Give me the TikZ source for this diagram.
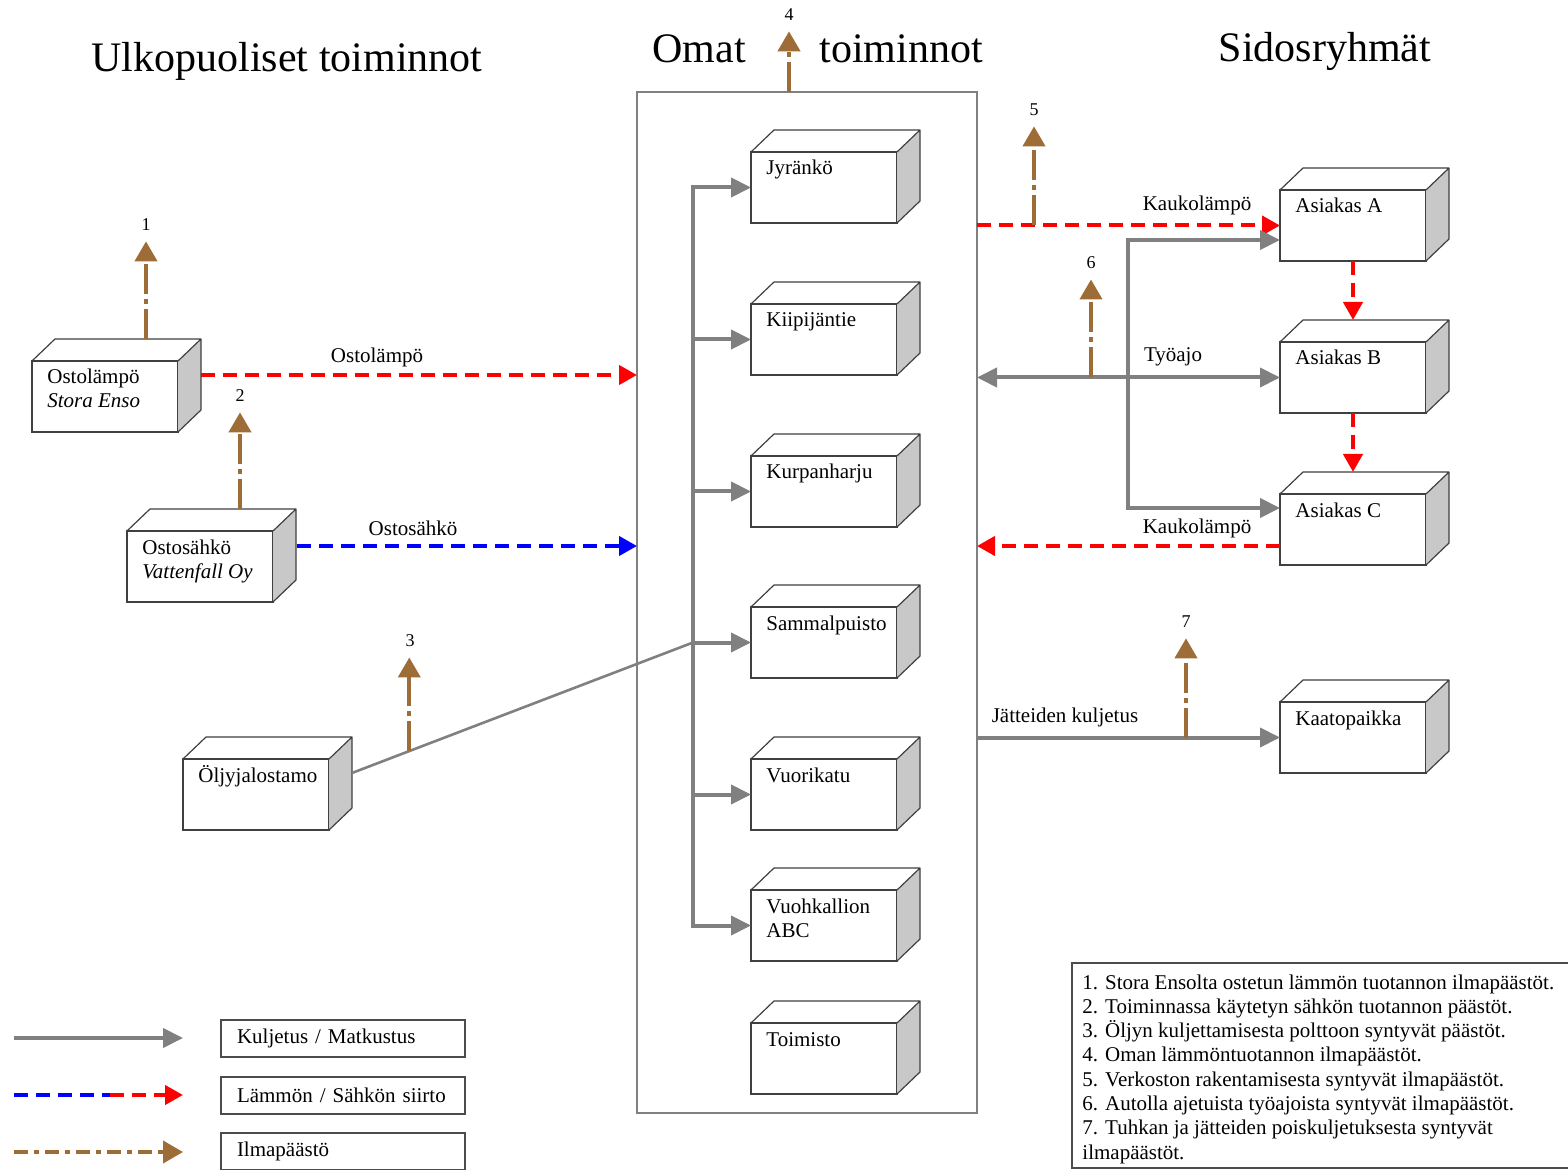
\documentclass[tikz,border=0pt]{standalone}
\usepackage{fontspec}
\setmainfont{Liberation Serif}
\usetikzlibrary{arrows.meta,calc}
\definecolor{cgray}{RGB}{128,128,128}
\definecolor{cred}{RGB}{255,0,0}
\definecolor{cblue}{RGB}{0,0,255}
\definecolor{cbrown}{RGB}{158,108,55}
\definecolor{cside}{RGB}{200,200,200}
\tikzset{
  front/.style={draw=black!75, line width=0.6pt, fill=white, minimum width=73pt, minimum height=35.5pt, inner sep=0pt, outer sep=0pt, anchor=north west},
  boxtext/.style={anchor=base west, inner sep=0pt, font=\fontsize{10.5}{12}\selectfont},
  gtip/.tip={Triangle[length=10pt,width=9.5pt]},
  rtip/.tip={Triangle[length=9pt,width=9.5pt]},
  btip/.tip={Triangle[length=10pt,width=11pt]},
  gline/.style={draw=cgray, line width=2pt},
  transport/.style={gline, -gtip},
  heat/.style={draw=cred, line width=2pt, dash pattern=on 7pt off 4pt, -rtip},
  power/.style={draw=cblue, line width=2pt, dash pattern=on 7pt off 4pt, -rtip},
  emis/.style={draw=cbrown, line width=2pt, dash pattern=on 15pt off 2.5pt on 2.5pt off 2.5pt, -btip},
  lbl/.style={font=\fontsize{10.5}{12}\selectfont, inner sep=1pt},
  num/.style={font=\fontsize{9}{11}\selectfont, inner sep=0pt},
  title/.style={font=\fontsize{21}{25}\selectfont, inner sep=0pt, anchor=base},
  legbox/.style={draw=black!70, line width=0.6pt, anchor=west, text width=106pt, inner xsep=8pt, minimum height=18.5pt, inner ysep=0pt, outer sep=0pt, font=\fontsize{10.5}{12}\selectfont},
}
\newcommand\cubeat[4]{%
  \node[front] (#1) at (#2,#3) {};
  \fill[cside] (#1.north east) -- ++(23,-22) -- ++(0,71) -- (#1.south east) -- cycle;
  \draw[black!75, line width=0.6pt, line join=round] (#1.north west) -- ++(23,-22) -- ++(146,0) -- ++(0,71) -- (#1.south east) (#1.north east) -- ++(23,-22);
  \node[boxtext] (#1-t) at ($(#1.north west)+(15,23)$) {\begin{tabular}[t]{@{}l@{}}#4\end{tabular}};
}
\begin{document}
\begin{tikzpicture}[x=0.5pt,y=-0.5pt]
\fill[white] (0,0) rectangle (1568,1170);
\useasboundingbox (0,0) rectangle (1568,1170);

% titles
\node[title] (t1) at (287,72) {Ulkopuoliset toiminnot};
\node[title] (t2) at (699,63) {Omat};
\node[title] (t3) at (901,63) {toiminnot};
\node[title] (t4) at (1325,62) {Sidosryhmät};

% big box
\node[draw=cgray, line width=0.8pt, minimum width=170pt, minimum height=510.5pt, inner sep=0pt, outer sep=0pt, anchor=north west] (omat) at (637,92) {};

% own sites
\cubeat{jyr}{751}{152}{Jyränkö}
\cubeat{kiipi}{751}{304}{Kiipijäntie}
\cubeat{kurpan}{751}{456}{Kurpanharju}
\cubeat{sammal}{751}{607}{Sammalpuisto}
\cubeat{vuori}{751}{759}{Vuorikatu}
\cubeat{vuoh}{751}{890}{Vuohkallion\\ABC}
\cubeat{toim}{751}{1023}{Toimisto}

% external
\cubeat{ostol}{32}{361}{Ostolämpö\\\textit{Stora Enso}}
\cubeat{ostos}{127}{531}{Ostosähkö\\\textit{Vattenfall Oy}}
\cubeat{oljy}{183}{759}{Öljyjalostamo}

% stakeholders
\cubeat{asA}{1280}{190}{Asiakas A}
\cubeat{asB}{1280}{342}{Asiakas B}
\cubeat{asC}{1280}{494}{Asiakas C}
\cubeat{kaato}{1280}{702}{Kaatopaikka}

% trunk inside own box
\coordinate (tx) at (693,0);
\draw[gline, gtip-gtip] (jyr.west) -- (tx |- jyr.west) -- (tx |- vuoh.west) -- (vuoh.west);
\draw[transport] (tx |- kiipi.west) -- (kiipi.west);
\draw[transport] (tx |- kurpan.west) -- (kurpan.west);
\draw[transport] (tx |- sammal.west) -- (sammal.west);
\draw[transport] (tx |- vuori.west) -- (vuori.west);

% left connectors
\coordinate (ol) at ($(ostol.north east)+(23,14)$);
\draw[heat] (ol) -- (omat.west |- ol);
\node[lbl] (lOl) at (377,357) {Ostolämpö};
\coordinate (os) at ($(ostos.north east)+(24,15)$);
\draw[power] (os) -- (omat.west |- os);
\node[lbl] (lOs) at (413,528) {Ostosähkö};
\coordinate (oilstart) at ($(oljy.north east)+(23,14)$);
\coordinate (oilend) at (tx |- sammal.west);
\draw[draw=cgray, line width=1.3pt] (oilstart) -- (oilend);

% emissions
\node[num] (n1) at (146,225) {1};
\coordinate (e1) at ($(ostol.north west)+(114,-22)$);
\draw[emis] (e1) -- ([yshift=-5pt]e1 |- n1.south);
\node[num] (n2) at (240,396) {2};
\coordinate (e2) at ($(ostos.north west)+(113,-22)$);
\draw[emis] (e2) -- ([yshift=-5pt]e2 |- n2.south);
\node[num] (n3) at (410,641) {3};
\coordinate (e3) at ($(oilstart)!0.168!(oilend)$);
\draw[emis] (e3) -- ([yshift=-5pt]e3 |- n3.south);
\node[num] (n4) at (789,15) {4};
\coordinate (e4) at ($(omat.north west)+(152,0)$);
\draw[emis] (e4) -- ([yshift=-5pt]e4 |- n4.south);

% right connectors
\draw[heat] (omat.east |- asA.west) -- (asA.west);
\node[lbl] (lK1) at (1197,205) {Kaukolämpö};
\node[num] (n5) at (1034,110) {5};
\coordinate (e5) at ($(omat.east |- asA.west)+(57,0)$);
\draw[emis] (e5) -- ([yshift=-5pt]e5 |- n5.south);

\coordinate (vx) at (1128,0);
\coordinate (ra) at ($(asA.north west)+(0,50)$);
\coordinate (rc) at ($(asC.north west)+(0,14)$);
\draw[gline, gtip-gtip] (ra) -- (vx |- ra) -- (vx |- rc) -- (rc);

\draw[gline, gtip-gtip] (omat.east |- asB.west) -- (asB.west);
\node[lbl] (lT) at (1173,357) {Työajo};
\node[num] (n6) at (1091,263) {6};
\coordinate (e6) at ($(omat.east |- asB.west)+(114,0)$);
\draw[emis] (e6) -- ([yshift=-5pt]e6 |- n6.south);

\draw[heat] (asA.south) -- ($(asB.north)+(0,-22)$);
\draw[heat] (asB.south) -- ($(asC.north)+(0,-22)$);

\coordinate (rk) at ($(asC.south west)+(0,-19)$);
\draw[heat] (rk) -- (omat.east |- rk);
\node[lbl] (lK2) at (1197,528) {Kaukolämpö};

\draw[transport] (omat.east |- kaato.west) -- (kaato.west);
\node[lbl] (lJ) at (1065,717) {Jätteiden kuljetus};
\node[num] (n7) at (1186,622) {7};
\coordinate (e7) at ($(omat.east |- kaato.west)+(209,0)$);
\draw[emis] (e7) -- ([yshift=-5pt]e7 |- n7.south);

% legend
\coordinate (la1) at (14,1038); \coordinate (lb1) at (183,1038);
\draw[transport] (la1) -- (lb1);
\coordinate (la2) at (14,1095); \coordinate (lm2) at (110,1095); \coordinate (lb2) at (183,1095);
\draw[draw=cblue, line width=2pt, dash pattern=on 7pt off 4pt] (la2) -- (lm2);
\draw[heat] (lm2) -- (lb2);
\coordinate (la3) at (14,1152); \coordinate (lb3) at (183,1152);
\draw[emis, dash pattern=on 7pt off 3pt on 2.5pt off 3pt] (la3) -- (lb3);
\node[legbox] (leg1) at (221,1038.5) {Kuljetus / Matkustus};
\node[legbox] (leg2) at (221,1095.5) {Lämmön / Sähkön siirto};
\node[legbox] (leg3) at (221,1151.5) {Ilmapäästö};

% notes
\node[draw=black!70, line width=0.6pt, anchor=north west, minimum width=249pt, minimum height=102.5pt, inner sep=0pt, outer sep=0pt] (notebox) at (1072,963) {};
\node[anchor=base west, inner sep=0pt, font=\fontsize{10.5}{12.15}\selectfont] (notes) at (1082,989) {\begin{tabular}[t]{@{}l@{}}
1. Stora Ensolta ostetun lämmön tuotannon ilmapäästöt.\\
2. Toiminnassa käytetyn sähkön tuotannon päästöt.\\
3. Öljyn kuljettamisesta polttoon syntyvät päästöt.\\
4. Oman lämmöntuotannon ilmapäästöt.\\
5. Verkoston rakentamisesta syntyvät ilmapäästöt.\\
6. Autolla ajetuista työajoista syntyvät ilmapäästöt.\\
7. Tuhkan ja jätteiden poiskuljetuksesta syntyvät\\
ilmapäästöt.
\end{tabular}};
\end{tikzpicture}
\end{document}
